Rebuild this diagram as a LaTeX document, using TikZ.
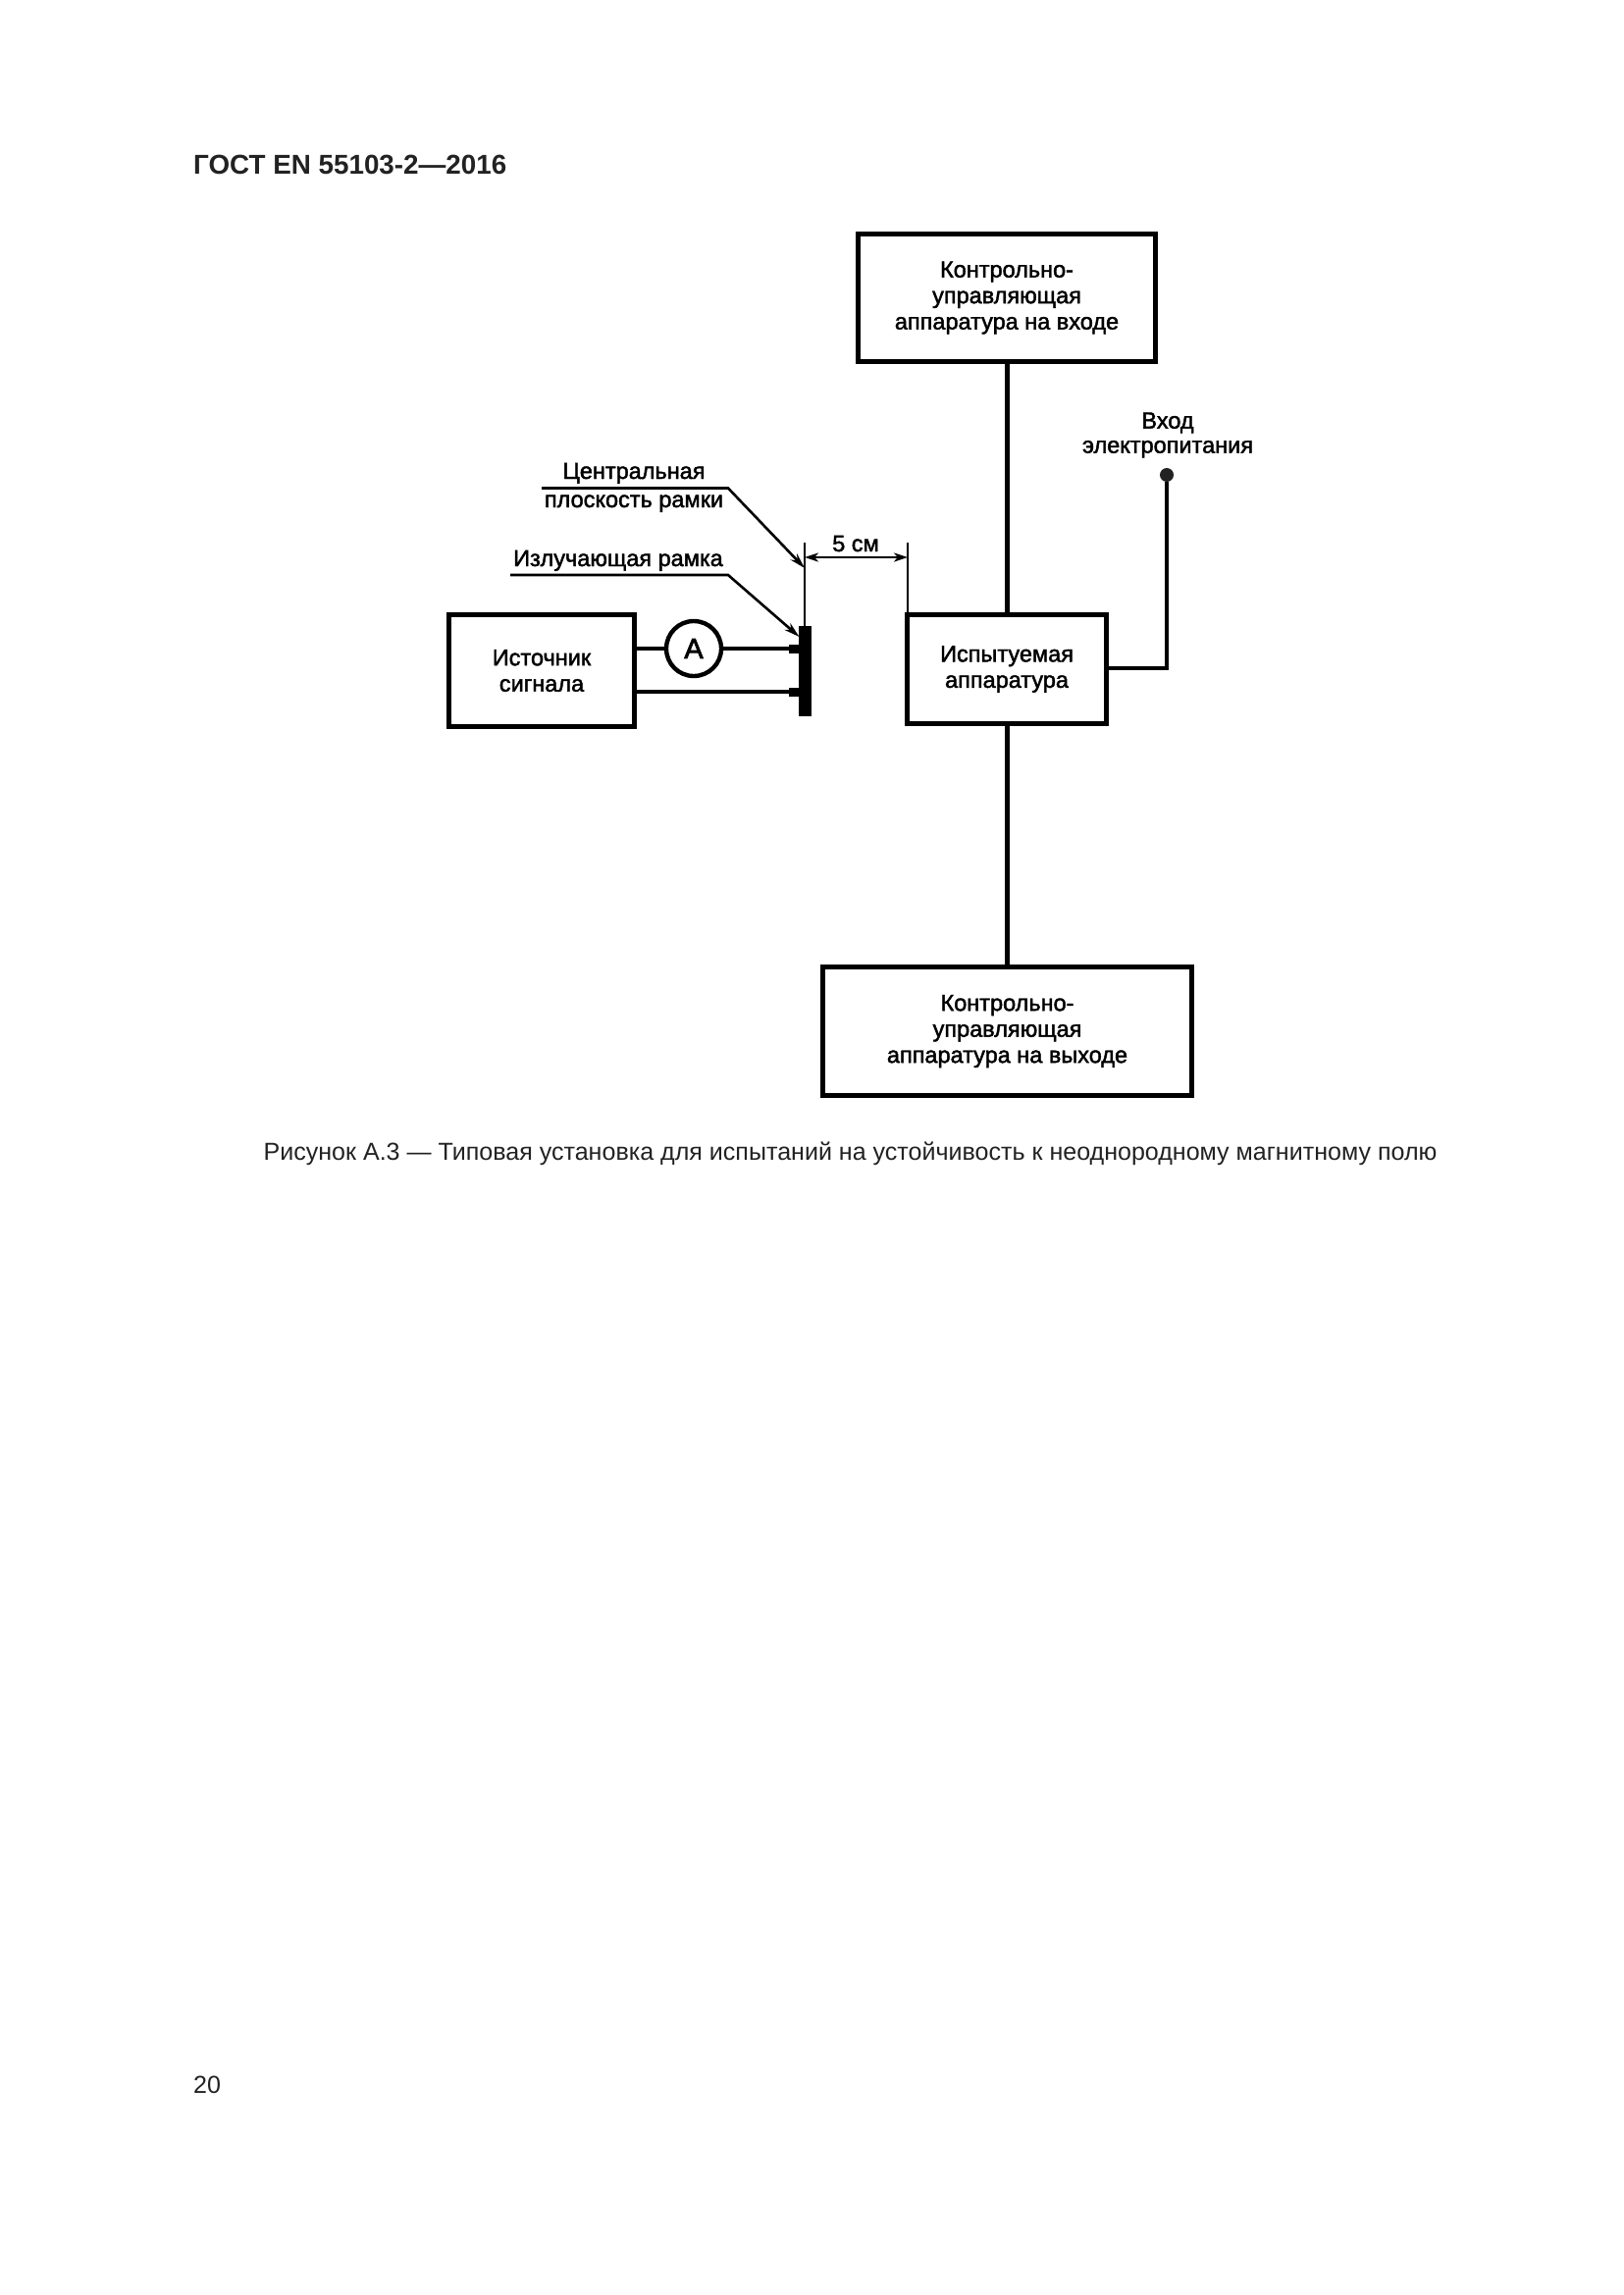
\documentclass[tikz,border=0pt]{standalone}
\usepackage{fontspec}
\setmainfont{Liberation Sans}
\newfontfamily\diafont[FakeBold=1.8]{Liberation Sans}
\newfontfamily\ammfont[FakeBold=2.6]{Liberation Sans}
\usetikzlibrary{arrows.meta}
\definecolor{ink}{HTML}{222222}
\tikzset{
  lbl/.style={font=\diafont\fontsize{23.5}{26.5}\selectfont, align=center, inner sep=0pt, text=black},
  lblp/.style={font=\diafont\fontsize{23.5}{25}\selectfont, align=center, inner sep=0pt, text=black},
  boxst/.style={draw=black, line width=4.8pt, fill=white, rectangle, inner sep=0pt},
  wire/.style={draw=black, line width=4.8pt},
  thin line/.style={draw=black, line width=2.8pt},
  leader/.style={draw=black, line width=2.6pt, -{Stealth[length=16pt,width=9pt]}},
  dimen/.style={draw=black, line width=2.6pt, {Stealth[length=14pt,width=9pt,inset=4pt]}-{Stealth[length=14pt,width=9pt,inset=4pt]}},
  page/.style={font=\fontsize{25.05}{28}\selectfont, inner sep=0pt, text=ink}
}
\begin{document}
\begin{tikzpicture}[x=1pt,y=-1pt]
\useasboundingbox (0,0) rectangle (1654,2339);
\fill[white] (0,0) rectangle (1654,2339);
% header and footer
\node[page, anchor=base west, font=\bfseries\fontsize{27.8}{30}\selectfont] (hdr) at (197,177) {ГОСТ EN 55103-2—2016};
\node[page, anchor=base west] (pg) at (197,2133) {20};
\node[page, anchor=base] (cap) at (866.5,1182) {Рисунок А.3 — Типовая установка для испытаний на устойчивость к неоднородному магнитному полю};
% boxes
\node[boxst, lbl, minimum width=303.5pt, minimum height=130.5pt] (top) at (1026,303.5) {Контрольно-\\управляющая\\аппаратура на входе};
\node[boxst, lbl, minimum width=203.5pt, minimum height=111pt] (dut) at (1026,682) {Испытуемая\\аппаратура};
\node[boxst, lbl, minimum width=376.5pt, minimum height=131.5pt] (bot) at (1026.5,1051) {Контрольно-\\управляющая\\аппаратура на выходе};
\node[boxst, lbl, minimum width=189.5pt, minimum height=114.5pt] (src) at (552,683.5) {Источник\\сигнала};
\node[draw=black, line width=4.4pt, circle, fill=white, minimum size=56pt, inner sep=0pt, font=\ammfont\fontsize{29}{30}\selectfont] (amm) at (707,661) {А};
\node[fill=black, rectangle, minimum width=13pt, minimum height=92pt, inner sep=0pt] (frame) at (820.5,684) {};
% power input
\node[circle, fill=ink, minimum size=14pt, inner sep=0pt] (pwr) at (1189,484) {};
\node[lblp] (pwrt) at (1190,443.5) {Вход\\электропитания};
% wires
\coordinate (cx) at (1026.5,0);
\draw[wire] (cx |- top.south) -- (cx |- dut.north);
\draw[wire] (cx |- dut.south) -- (cx |- bot.north);
\draw[wire] (dut.east |- 0,681) -| (pwr.south);
\draw[wire] (amm.west -| src.east) -- (amm.west);
\draw[wire] (amm.east) -- (amm.east -| frame.west);
\coordinate (w2) at (649,705);
\draw[wire] (w2) -- (w2 -| frame.west);
\draw[line width=9pt] (804,661) -- (804,661 -| frame.west);
\draw[line width=9pt] (804,705) -- (804,705 -| frame.west);
% plane lines and dimension
\coordinate (tl) at (820,553);
\coordinate (tr) at (925,553);
\draw[thin line] (tl) -- (tl |- frame.north);
\draw[thin line] (tr) -- (tr |- dut.north);
\coordinate (dl) at (820,568);
\coordinate (dr) at (925,568);
\draw[dimen] (dl) -- (dr);
\node[lbl, anchor=base] (dimt) at (872,562) {5 см};
% leaders
\coordinate (l1) at (552,497.5);
\coordinate (l1k) at (742,497.5);
\coordinate (l1e) at (820,579);
\coordinate (l2) at (520,586);
\coordinate (l2k) at (742,586);
\coordinate (l2e) at (814.5,649);
\draw[leader] (l1) -- (l1k) -- (l1e);
\draw[leader] (l2) -- (l2k) -- (l2e);
\node[lbl, anchor=base] (lt1) at (646,488) {Центральная};
\node[lbl, anchor=base] (lt2) at (646,517) {плоскость рамки};
\node[lbl, anchor=base] (lt3) at (630,577) {Излучающая рамка};
\end{tikzpicture}
\end{document}
